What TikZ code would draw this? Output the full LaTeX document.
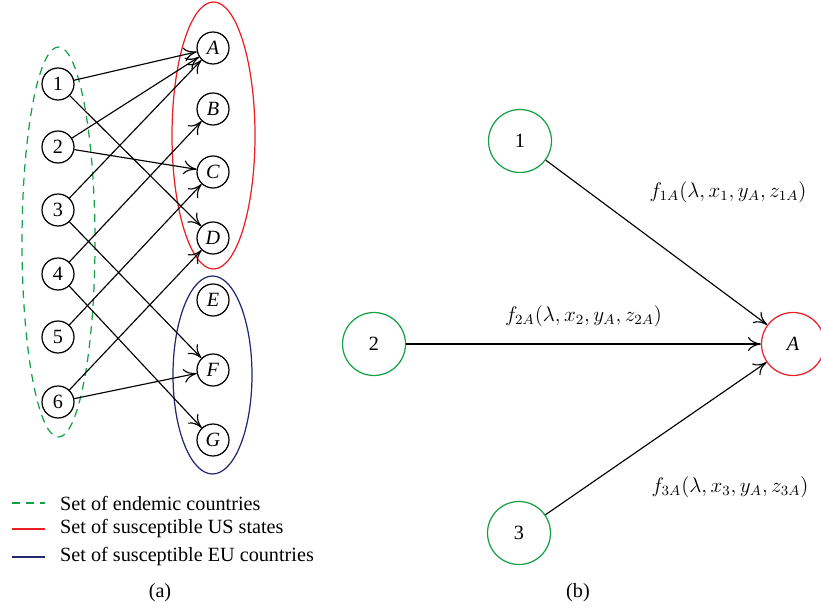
\documentclass[tikz,border=0pt]{standalone}
\usepackage{fontspec}
\setmainfont{Liberation Serif}
\usepackage{tikz}
\usetikzlibrary{arrows.meta}
\definecolor{endemic}{RGB}{20,160,70}
\definecolor{usred}{RGB}{235,30,35}
\definecolor{eunavy}{RGB}{35,40,110}

\begin{document}
\begin{tikzpicture}[x=0.02cm,y=-0.02cm,font=\fontsize{11.5}{13.5}\selectfont,
  small/.style={circle,draw,line width=0.7pt,minimum size=0.64cm,inner sep=0pt},
  big/.style={circle,draw,line width=0.7pt,minimum size=1.26cm,inner sep=0pt},
  link/.style={-{To[length=2.6mm,width=2.8mm]},line width=0.65pt},
  greendash/.style={endemic,line width=0.7pt,dash pattern=on 4.5pt off 3.5pt}]
\useasboundingbox (0,0) rectangle (821,611);
\foreach \i/\y in {1/84,2/147,3/210,4/274,5/337,6/402}
  \node[small] (e\i) at (58,\y) {\i};
\foreach \s/\y in {A/48,B/109,C/172,D/238,E/300,F/370,G/440}
  \node[small] (s\s) at (213,\y) {\textit{\s}};
\draw[greendash] (58.5,242) ellipse [x radius=36.5,y radius=195];
\draw[usred,line width=0.7pt] (213.5,135.5) ellipse [x radius=41.5,y radius=133.5];
\draw[eunavy,line width=0.7pt] (212.5,375) ellipse [x radius=39.5,y radius=99];
\draw[link] (e1) -- (sA);
\draw[link] (e1) -- (sD);
\draw[link] (e2) -- (sA);
\draw[link] (e2) -- (sC);
\draw[link] (e3) -- (sA);
\draw[link] (e3) -- (sF);
\draw[link] (e4) -- (sB);
\draw[link] (e4) -- (sG);
\draw[link] (e5) -- (sC);
\draw[link] (e6) -- (sD);
\draw[link] (e6) -- (sF);
\draw[greendash] (12,503) -- (45,503);
\draw[usred,line width=0.7pt] (12,529) -- (45,529);
\draw[eunavy,line width=0.7pt] (12,557) -- (45,557);
\node[anchor=west] (leg1) at (54,503) {Set of endemic countries};
\node[anchor=west] (leg2) at (54,529) {Set of susceptible US states};
\node[anchor=west] (leg3) at (54,557) {Set of susceptible EU countries};
\node (capa) at (160,593) {(a)};

\node[big,endemic,text=black] (b1) at (520,141) {1};
\node[big,endemic,text=black] (b2) at (374,344) {2};
\node[big,endemic,text=black] (b3) at (519,533) {3};
\node[big,usred,text=black] (bA) at (793,344) {\textit{A}};
\draw[link] (b1) -- (bA);
\draw[link] (b2) -- node[above=6pt] (l2) {$f_{2A}(\lambda,x_2,y_A,z_{2A})$} (bA);
\draw[link] (b3) -- (bA);
\node (l1) at (728,192) {$f_{1A}(\lambda,x_1,y_A,z_{1A})$};
\node (l3) at (730,487) {$f_{3A}(\lambda,x_3,y_A,z_{3A})$};
\node (capb) at (578,593) {(b)};
\end{tikzpicture}
\end{document}
